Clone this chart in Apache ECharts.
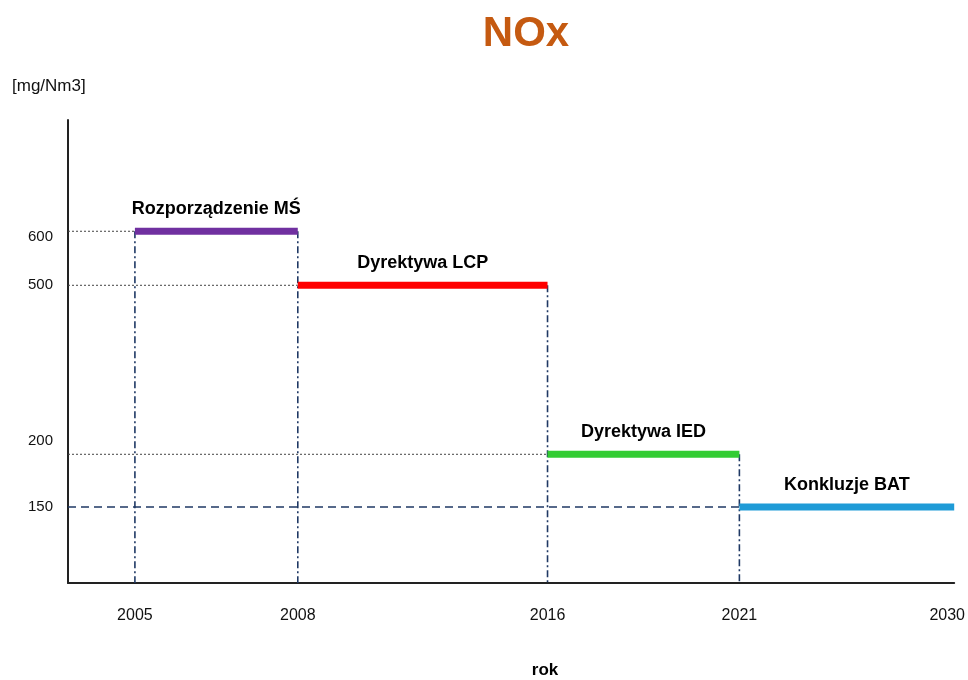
<!DOCTYPE html>
<html><head><meta charset="utf-8">
<script src="https://cdn.jsdelivr.net/npm/echarts@6/dist/echarts.min.js"></script>
<style>html,body{margin:0;padding:0;background:#fff}#c{width:968px;height:680px}</style>
</head><body><div id="c"></div>
<script>
// Data (schematic chart: axes are not to scale)
const years = ['2005', '2008', '2016', '2021', '2030'];
const yearPos = [7.55, 25.93, 54.11, 75.76, 100];      // position of each year on the schematic x axis
const levels = [600, 500, 200, 150];                   // emission limits [mg/Nm3]
const levelPos = [75.97, 64.3, 27.8, 16.4];            // position of each limit on the schematic y axis
const regulations = ['Rozporządzenie MŚ', 'Dyrektywa LCP', 'Dyrektywa IED', 'Konkluzje BAT'];

const regColors = ['#7030a0', '#ff0000', '#33cc33', '#1f9bd7'];
const FONT = 'Liberation Sans, Arial, Helvetica, sans-serif';
const NAVY = '#1f3864';
const INK = '#111';

const series = [];
// horizontal guides from the y axis to each segment start
levels.forEach((v, i) => {
  const last = i === levels.length - 1;
  series.push({
    type: 'line', symbol: 'none', silent: true, z: 1,
    data: [[0, levelPos[i]], [yearPos[i], levelPos[i]]],
    lineStyle: last ? { color: NAVY, width: 1.5, type: [8, 5] } : { color: '#444', width: 1, type: [2, 2] }
  });
});
// vertical dash-dot lines at each change year
for (let j = 0; j < 4; j++) {
  const top = levelPos[Math.max(j - 1, 0)];
  series.push({
    type: 'line', symbol: 'none', silent: true, z: 1,
    data: [[yearPos[j], top], [yearPos[j], 0]],
    lineStyle: { color: NAVY, width: 1.6, type: [7, 3, 2, 3] }
  });
}
// regulation segments
regulations.forEach((name, i) => {
  series.push({
    type: 'line', symbol: 'none', silent: true, z: 3,
    data: [[yearPos[i], levelPos[i]], [yearPos[i + 1], levelPos[i]]],
    lineStyle: { color: regColors[i], width: 7, cap: 'butt' }
  });
  series.push({
    type: 'scatter', symbolSize: 0, silent: true, z: 4,
    itemStyle: { opacity: 1 },
    data: [[(yearPos[i] + yearPos[i + 1]) / 2, levelPos[i]]],
    label: {
      show: true, position: 'top', distance: 13, formatter: name,
      color: '#000', fontFamily: FONT, fontWeight: 'bold', fontSize: 18
    }
  });
});

const chart = echarts.init(document.getElementById('c'), null, { renderer: 'canvas' });
chart.setOption({
  animation: false,
  backgroundColor: '#fff',
  grid: { left: 68, right: 13, top: 120, bottom: 97, containLabel: false },
  xAxis: {
    type: 'value', min: 0, max: 100,
    splitLine: { show: false },
    axisTick: { show: false },
    axisLine: { show: true, lineStyle: { color: '#222', width: 2 } },
    axisLabel: {
      customValues: yearPos, margin: 25,
      color: INK, fontFamily: FONT, fontSize: 16,
      formatter: v => {
        const k = yearPos.indexOf(v);
        if (k < 0) return '';
        return k === years.length - 1 ? '{r|' + years[k] + '}' : '{n|' + years[k] + '}';
      },
      rich: {
        n: { color: INK, fontFamily: FONT, fontSize: 16 },
        r: { color: INK, fontFamily: FONT, fontSize: 16, padding: [0, 14, 0, 0] }
      }
    }
  },
  yAxis: {
    type: 'value', min: 0, max: 100,
    splitLine: { show: false },
    axisTick: { show: false },
    axisLine: { show: true, lineStyle: { color: '#222', width: 2 } },
    axisLabel: {
      customValues: levelPos, margin: 15,
      color: INK, fontFamily: FONT, fontSize: 15,
      formatter: v => {
        const k = levelPos.indexOf(v);
        if (k < 0) return '';
        const style = k === 0 ? 'a' : (k === 2 ? 'b' : 'n');
        return '{' + style + '|' + levels[k] + '}';
      },
      rich: {
        n: { color: INK, fontFamily: FONT, fontSize: 15 },
        a: { color: INK, fontFamily: FONT, fontSize: 15, padding: [12, 0, 0, 0] },
        b: { color: INK, fontFamily: FONT, fontSize: 15, padding: [0, 0, 26, 0] }
      }
    }
  },
  graphic: [
    { type: 'text', x: 526, y: 34, style: { text: 'NOx', fill: '#c55a11', font: 'bold 42px ' + FONT, align: 'center', verticalAlign: 'middle' } },
    { type: 'text', x: 12, y: 86, style: { text: '[mg/Nm3]', fill: INK, font: '17px ' + FONT, align: 'left', verticalAlign: 'middle' } },
    { type: 'text', x: 545, y: 670, style: { text: 'rok', fill: '#000', font: 'bold 17px ' + FONT, align: 'center', verticalAlign: 'middle' } }
  ],
  series: series
});
</script>
</body></html>
